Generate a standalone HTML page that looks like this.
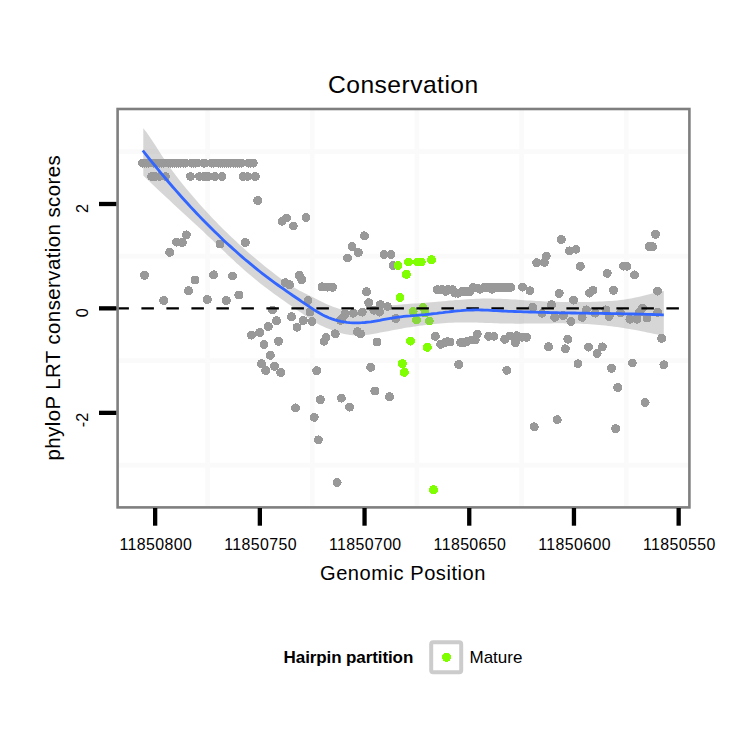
<!DOCTYPE html>
<html><head><meta charset="utf-8"><style>
html,body{margin:0;padding:0;background:#fff;}
svg{display:block;}
text{font-family:"Liberation Sans",sans-serif;}
</style></head><body>
<svg width="750" height="750" viewBox="0 0 750 750">
<rect x="0" y="0" width="750" height="750" fill="#fff"/>
<g stroke="#fafafa" stroke-width="4.7" fill="none">
<line x1="207.55" y1="110" x2="207.55" y2="506"/>
<line x1="312.25" y1="110" x2="312.25" y2="506"/>
<line x1="416.95" y1="110" x2="416.95" y2="506"/>
<line x1="521.65" y1="110" x2="521.65" y2="506"/>
<line x1="626.3" y1="110" x2="626.3" y2="506"/>
<line x1="119" y1="151.7" x2="688" y2="151.7"/>
<line x1="119" y1="256.15" x2="688" y2="256.15"/>
<line x1="119" y1="360.6" x2="688" y2="360.6"/>
<line x1="119" y1="465.2" x2="688" y2="465.2"/>
</g>
<g fill="#999999" shape-rendering="crispEdges">
<circle cx="142.5" cy="163.1" r="4.5"/>
<circle cx="144.6" cy="163.1" r="4.5"/>
<circle cx="146.8" cy="163.1" r="4.5"/>
<circle cx="148.9" cy="163.1" r="4.5"/>
<circle cx="151.0" cy="163.1" r="4.5"/>
<circle cx="153.2" cy="163.1" r="4.5"/>
<circle cx="155.3" cy="163.1" r="4.5"/>
<circle cx="157.4" cy="163.1" r="4.5"/>
<circle cx="159.6" cy="163.1" r="4.5"/>
<circle cx="161.7" cy="163.1" r="4.5"/>
<circle cx="163.8" cy="163.1" r="4.5"/>
<circle cx="166.0" cy="163.1" r="4.5"/>
<circle cx="168.1" cy="163.1" r="4.5"/>
<circle cx="170.3" cy="163.1" r="4.5"/>
<circle cx="172.4" cy="163.1" r="4.5"/>
<circle cx="174.5" cy="163.1" r="4.5"/>
<circle cx="176.7" cy="163.1" r="4.5"/>
<circle cx="178.8" cy="163.1" r="4.5"/>
<circle cx="180.9" cy="163.1" r="4.5"/>
<circle cx="183.1" cy="163.1" r="4.5"/>
<circle cx="185.2" cy="163.1" r="4.5"/>
<circle cx="191.6" cy="163.1" r="4.5"/>
<circle cx="193.4" cy="163.1" r="4.5"/>
<circle cx="195.2" cy="163.1" r="4.5"/>
<circle cx="197.0" cy="163.1" r="4.5"/>
<circle cx="203.5" cy="163.1" r="4.5"/>
<circle cx="204.7" cy="163.1" r="4.5"/>
<circle cx="211.7" cy="163.1" r="4.5"/>
<circle cx="213.8" cy="163.1" r="4.5"/>
<circle cx="216.0" cy="163.1" r="4.5"/>
<circle cx="218.1" cy="163.1" r="4.5"/>
<circle cx="220.2" cy="163.1" r="4.5"/>
<circle cx="222.4" cy="163.1" r="4.5"/>
<circle cx="224.5" cy="163.1" r="4.5"/>
<circle cx="226.6" cy="163.1" r="4.5"/>
<circle cx="228.8" cy="163.1" r="4.5"/>
<circle cx="230.9" cy="163.1" r="4.5"/>
<circle cx="233.1" cy="163.1" r="4.5"/>
<circle cx="235.2" cy="163.1" r="4.5"/>
<circle cx="237.3" cy="163.1" r="4.5"/>
<circle cx="239.5" cy="163.1" r="4.5"/>
<circle cx="241.6" cy="163.1" r="4.5"/>
<circle cx="248.6" cy="163.1" r="4.5"/>
<circle cx="250.9" cy="163.1" r="4.5"/>
<circle cx="253.2" cy="163.1" r="4.5"/>
<circle cx="151.6" cy="176.5" r="4.5"/>
<circle cx="155.5" cy="176.5" r="4.5"/>
<circle cx="159.5" cy="176.5" r="4.5"/>
<circle cx="165.5" cy="176.5" r="4.5"/>
<circle cx="190.5" cy="176.5" r="4.5"/>
<circle cx="199.5" cy="176.5" r="4.5"/>
<circle cx="204.0" cy="176.5" r="4.5"/>
<circle cx="208.3" cy="176.5" r="4.5"/>
<circle cx="215.0" cy="176.5" r="4.5"/>
<circle cx="222.0" cy="176.5" r="4.5"/>
<circle cx="243.3" cy="176.5" r="4.5"/>
<circle cx="247.5" cy="176.5" r="4.5"/>
<circle cx="255.3" cy="176.5" r="4.5"/>
<circle cx="437.4" cy="289.6" r="4.5"/>
<circle cx="442.0" cy="289.6" r="4.5"/>
<circle cx="445.9" cy="291.3" r="4.5"/>
<circle cx="448.3" cy="289.6" r="4.5"/>
<circle cx="452.5" cy="289.6" r="4.5"/>
<circle cx="455.2" cy="293.1" r="4.5"/>
<circle cx="458.0" cy="293.3" r="4.5"/>
<circle cx="462.0" cy="291.7" r="4.5"/>
<circle cx="466.0" cy="291.7" r="4.5"/>
<circle cx="470.0" cy="291.6" r="4.5"/>
<circle cx="473.3" cy="287.4" r="4.5"/>
<circle cx="477.0" cy="288.0" r="4.5"/>
<circle cx="480.0" cy="289.3" r="4.5"/>
<circle cx="484.0" cy="287.4" r="4.5"/>
<circle cx="488.0" cy="287.4" r="4.5"/>
<circle cx="492.0" cy="289.3" r="4.5"/>
<circle cx="491.5" cy="287.4" r="4.5"/>
<circle cx="496.0" cy="287.4" r="4.5"/>
<circle cx="500.0" cy="287.4" r="4.5"/>
<circle cx="504.0" cy="287.4" r="4.5"/>
<circle cx="507.5" cy="287.5" r="4.5"/>
<circle cx="510.6" cy="287.4" r="4.5"/>
<circle cx="445.0" cy="342.5" r="4.5"/>
<circle cx="447.5" cy="341.5" r="4.5"/>
<circle cx="464.0" cy="342.5" r="4.5"/>
<circle cx="522.0" cy="337.3" r="4.5"/>
<circle cx="257.7" cy="200.4" r="4.5"/>
<circle cx="186.3" cy="234.9" r="4.5"/>
<circle cx="176.5" cy="242.0" r="4.5"/>
<circle cx="182.3" cy="242.4" r="4.5"/>
<circle cx="169.7" cy="252.3" r="4.5"/>
<circle cx="144.4" cy="275.3" r="4.5"/>
<circle cx="195.0" cy="280.0" r="4.5"/>
<circle cx="213.6" cy="274.8" r="4.5"/>
<circle cx="188.5" cy="290.7" r="4.5"/>
<circle cx="220.0" cy="244.1" r="4.5"/>
<circle cx="245.3" cy="242.4" r="4.5"/>
<circle cx="286.7" cy="218.0" r="4.5"/>
<circle cx="282.0" cy="221.3" r="4.5"/>
<circle cx="293.3" cy="226.0" r="4.5"/>
<circle cx="232.4" cy="276.0" r="4.5"/>
<circle cx="285.3" cy="282.7" r="4.5"/>
<circle cx="289.6" cy="284.7" r="4.5"/>
<circle cx="299.3" cy="275.3" r="4.5"/>
<circle cx="301.7" cy="279.7" r="4.5"/>
<circle cx="238.9" cy="295.0" r="4.5"/>
<circle cx="163.7" cy="300.4" r="4.5"/>
<circle cx="207.3" cy="299.6" r="4.5"/>
<circle cx="226.3" cy="300.4" r="4.5"/>
<circle cx="272.4" cy="310.0" r="4.5"/>
<circle cx="276.4" cy="320.7" r="4.5"/>
<circle cx="291.5" cy="316.7" r="4.5"/>
<circle cx="268.3" cy="326.4" r="4.5"/>
<circle cx="259.7" cy="332.4" r="4.5"/>
<circle cx="251.3" cy="335.1" r="4.5"/>
<circle cx="297.0" cy="327.2" r="4.5"/>
<circle cx="278.4" cy="341.3" r="4.5"/>
<circle cx="264.0" cy="344.7" r="4.5"/>
<circle cx="270.3" cy="355.3" r="4.5"/>
<circle cx="261.6" cy="363.7" r="4.5"/>
<circle cx="265.7" cy="370.4" r="4.5"/>
<circle cx="274.4" cy="366.3" r="4.5"/>
<circle cx="280.7" cy="372.4" r="4.5"/>
<circle cx="306.0" cy="217.7" r="4.5"/>
<circle cx="364.4" cy="235.8" r="4.5"/>
<circle cx="352.0" cy="246.7" r="4.5"/>
<circle cx="358.3" cy="252.4" r="4.5"/>
<circle cx="347.6" cy="258.0" r="4.5"/>
<circle cx="384.0" cy="254.4" r="4.5"/>
<circle cx="391.0" cy="254.4" r="4.5"/>
<circle cx="322.0" cy="286.9" r="4.5"/>
<circle cx="327.5" cy="287.0" r="4.5"/>
<circle cx="332.4" cy="287.3" r="4.5"/>
<circle cx="366.4" cy="291.7" r="4.5"/>
<circle cx="308.0" cy="300.7" r="4.5"/>
<circle cx="310.0" cy="312.0" r="4.5"/>
<circle cx="303.3" cy="320.4" r="4.5"/>
<circle cx="312.0" cy="321.7" r="4.5"/>
<circle cx="335.2" cy="333.8" r="4.5"/>
<circle cx="326.0" cy="337.3" r="4.5"/>
<circle cx="324.0" cy="341.3" r="4.5"/>
<circle cx="345.0" cy="314.0" r="4.5"/>
<circle cx="342.1" cy="318.6" r="4.5"/>
<circle cx="340.5" cy="320.5" r="4.5"/>
<circle cx="353.3" cy="313.2" r="4.5"/>
<circle cx="362.2" cy="312.1" r="4.5"/>
<circle cx="368.7" cy="302.7" r="4.5"/>
<circle cx="373.9" cy="310.2" r="4.5"/>
<circle cx="380.4" cy="304.6" r="4.5"/>
<circle cx="379.5" cy="312.1" r="4.5"/>
<circle cx="387.5" cy="306.5" r="4.5"/>
<circle cx="357.5" cy="331.7" r="4.5"/>
<circle cx="360.8" cy="334.0" r="4.5"/>
<circle cx="377.1" cy="342.0" r="4.5"/>
<circle cx="316.7" cy="370.7" r="4.5"/>
<circle cx="370.7" cy="367.3" r="4.5"/>
<circle cx="395.8" cy="318.5" r="4.5"/>
<circle cx="393.3" cy="265.6" r="4.5"/>
<circle cx="522.5" cy="287.0" r="4.5"/>
<circle cx="530.0" cy="290.8" r="4.5"/>
<circle cx="559.2" cy="293.4" r="4.5"/>
<circle cx="589.5" cy="293.0" r="4.5"/>
<circle cx="593.0" cy="290.2" r="4.5"/>
<circle cx="613.6" cy="290.3" r="4.5"/>
<circle cx="573.7" cy="300.1" r="4.5"/>
<circle cx="551.6" cy="304.7" r="4.5"/>
<circle cx="532.7" cy="307.3" r="4.5"/>
<circle cx="542.0" cy="313.3" r="4.5"/>
<circle cx="554.7" cy="317.3" r="4.5"/>
<circle cx="563.4" cy="315.5" r="4.5"/>
<circle cx="571.0" cy="321.5" r="4.5"/>
<circle cx="586.3" cy="309.9" r="4.5"/>
<circle cx="582.1" cy="317.3" r="4.5"/>
<circle cx="595.1" cy="313.1" r="4.5"/>
<circle cx="605.9" cy="309.9" r="4.5"/>
<circle cx="609.2" cy="316.4" r="4.5"/>
<circle cx="620.4" cy="313.0" r="4.5"/>
<circle cx="623.5" cy="266.0" r="4.5"/>
<circle cx="627.0" cy="266.3" r="4.5"/>
<circle cx="634.4" cy="274.9" r="4.5"/>
<circle cx="657.5" cy="291.1" r="4.5"/>
<circle cx="642.7" cy="308.0" r="4.5"/>
<circle cx="629.9" cy="319.2" r="4.5"/>
<circle cx="636.9" cy="319.2" r="4.5"/>
<circle cx="639.5" cy="312.3" r="4.5"/>
<circle cx="647.0" cy="318.1" r="4.5"/>
<circle cx="657.7" cy="312.3" r="4.5"/>
<circle cx="661.6" cy="338.4" r="4.5"/>
<circle cx="561.3" cy="239.6" r="4.5"/>
<circle cx="569.3" cy="250.9" r="4.5"/>
<circle cx="576.0" cy="249.3" r="4.5"/>
<circle cx="546.3" cy="256.0" r="4.5"/>
<circle cx="536.7" cy="262.7" r="4.5"/>
<circle cx="544.4" cy="262.4" r="4.5"/>
<circle cx="580.3" cy="266.3" r="4.5"/>
<circle cx="607.2" cy="273.3" r="4.5"/>
<circle cx="655.6" cy="234.3" r="4.5"/>
<circle cx="649.0" cy="246.7" r="4.5"/>
<circle cx="652.5" cy="246.7" r="4.5"/>
<circle cx="435.3" cy="336.3" r="4.5"/>
<circle cx="440.7" cy="344.3" r="4.5"/>
<circle cx="450.0" cy="342.0" r="4.5"/>
<circle cx="460.7" cy="342.4" r="4.5"/>
<circle cx="466.7" cy="341.6" r="4.5"/>
<circle cx="471.3" cy="340.0" r="4.5"/>
<circle cx="477.3" cy="334.0" r="4.5"/>
<circle cx="475.3" cy="340.0" r="4.5"/>
<circle cx="488.7" cy="336.3" r="4.5"/>
<circle cx="494.0" cy="336.3" r="4.5"/>
<circle cx="504.7" cy="339.3" r="4.5"/>
<circle cx="510.0" cy="336.0" r="4.5"/>
<circle cx="515.3" cy="342.7" r="4.5"/>
<circle cx="516.7" cy="335.7" r="4.5"/>
<circle cx="526.5" cy="337.4" r="4.5"/>
<circle cx="548.5" cy="346.7" r="4.5"/>
<circle cx="567.8" cy="339.2" r="4.5"/>
<circle cx="565.3" cy="348.8" r="4.5"/>
<circle cx="588.5" cy="347.1" r="4.5"/>
<circle cx="602.3" cy="346.9" r="4.5"/>
<circle cx="597.1" cy="353.5" r="4.5"/>
<circle cx="578.0" cy="363.8" r="4.5"/>
<circle cx="611.5" cy="368.3" r="4.5"/>
<circle cx="632.3" cy="363.0" r="4.5"/>
<circle cx="663.9" cy="364.8" r="4.5"/>
<circle cx="617.6" cy="387.5" r="4.5"/>
<circle cx="645.1" cy="402.5" r="4.5"/>
<circle cx="615.6" cy="428.6" r="4.5"/>
<circle cx="557.2" cy="419.7" r="4.5"/>
<circle cx="534.2" cy="426.8" r="4.5"/>
<circle cx="458.6" cy="364.5" r="4.5"/>
<circle cx="506.8" cy="370.3" r="4.5"/>
<circle cx="389.5" cy="396.8" r="4.5"/>
<circle cx="295.4" cy="407.9" r="4.5"/>
<circle cx="320.4" cy="399.6" r="4.5"/>
<circle cx="314.2" cy="417.3" r="4.5"/>
<circle cx="318.3" cy="439.9" r="4.5"/>
<circle cx="341.3" cy="398.1" r="4.5"/>
<circle cx="349.7" cy="407.1" r="4.5"/>
<circle cx="374.9" cy="391.0" r="4.5"/>
<circle cx="337.1" cy="482.4" r="4.5"/>
</g>
<g fill="#7fff00" shape-rendering="crispEdges">
<circle cx="398.0" cy="265.6" r="4.5"/>
<circle cx="408.4" cy="262.0" r="4.5"/>
<circle cx="417.6" cy="262.0" r="4.5"/>
<circle cx="421.3" cy="262.0" r="4.5"/>
<circle cx="431.4" cy="259.7" r="4.5"/>
<circle cx="406.4" cy="274.4" r="4.5"/>
<circle cx="400.0" cy="297.4" r="4.5"/>
<circle cx="413.1" cy="311.4" r="4.5"/>
<circle cx="423.0" cy="307.5" r="4.5"/>
<circle cx="425.0" cy="313.0" r="4.5"/>
<circle cx="416.6" cy="320.0" r="4.5"/>
<circle cx="429.3" cy="321.0" r="4.5"/>
<circle cx="410.4" cy="341.1" r="4.5"/>
<circle cx="427.3" cy="347.3" r="4.5"/>
<circle cx="402.4" cy="363.6" r="4.5"/>
<circle cx="404.3" cy="372.3" r="4.5"/>
<circle cx="433.5" cy="489.8" r="4.5"/>
</g>
<polygon points="143.3,128.3 146.3,132.0 149.3,136.2 152.3,140.7 155.3,145.3 158.3,150.0 161.3,154.7 164.3,159.3 167.3,163.7 170.3,168.0 173.3,172.1 176.3,176.0 179.3,179.9 182.3,183.7 185.3,187.4 188.3,191.0 191.3,194.6 194.3,198.1 197.3,201.6 200.3,205.0 203.3,208.3 206.3,211.6 209.3,214.8 212.3,218.0 215.3,221.1 218.3,224.2 221.3,227.2 224.3,230.2 227.3,233.1 230.3,236.0 233.3,238.8 236.3,241.6 239.3,244.4 242.3,247.1 245.3,249.7 248.3,252.4 251.3,255.0 254.3,257.5 257.3,260.0 260.3,262.5 263.3,264.9 266.3,267.4 269.3,269.7 272.3,272.1 275.3,274.4 278.3,276.7 281.3,278.9 284.3,281.0 287.3,283.1 290.3,285.1 293.3,287.0 296.3,288.8 299.3,290.5 302.3,292.0 305.3,293.5 308.3,295.0 311.3,296.4 314.3,297.9 317.3,299.4 320.3,300.9 323.3,302.4 326.3,303.9 329.3,305.3 332.3,306.5 335.3,307.6 338.3,308.6 341.3,309.4 344.3,310.0 347.3,310.4 350.3,310.7 353.3,310.8 356.3,310.6 359.3,310.2 362.3,309.7 365.3,309.1 368.3,308.5 371.3,308.0 374.3,307.4 377.3,307.0 380.3,306.5 383.3,306.2 386.3,305.8 389.3,305.5 392.3,305.2 395.3,305.0 398.3,304.7 401.3,304.5 404.3,304.2 407.3,304.0 410.3,303.8 413.3,303.6 416.3,303.4 419.3,303.2 422.3,302.9 425.3,302.7 428.3,302.5 431.3,302.2 434.3,302.0 437.3,301.7 440.3,301.4 443.3,301.2 446.3,300.9 449.3,300.6 452.3,300.4 455.3,300.1 458.3,299.9 461.3,299.7 464.3,299.5 467.3,299.3 470.3,299.1 473.3,299.0 476.3,298.8 479.3,298.7 482.3,298.6 485.3,298.6 488.3,298.6 491.3,298.6 494.3,298.7 497.3,298.7 500.3,298.8 503.3,298.9 506.3,299.1 509.3,299.2 512.3,299.4 515.3,299.6 518.3,299.8 521.3,300.0 524.3,300.2 527.3,300.4 530.3,300.5 533.3,300.7 536.3,300.9 539.3,301.1 542.3,301.2 545.3,301.4 548.3,301.5 551.3,301.6 554.3,301.7 557.3,301.8 560.3,301.9 563.3,301.9 566.3,302.0 569.3,302.0 572.3,302.0 575.3,302.0 578.3,302.0 581.3,302.0 584.3,302.0 587.3,301.9 590.3,301.9 593.3,301.8 596.3,301.7 599.3,301.6 602.3,301.4 605.3,301.3 608.3,301.1 611.3,300.9 614.3,300.7 617.3,300.4 620.3,300.1 623.3,299.7 626.3,299.3 629.3,298.8 632.3,298.2 635.3,297.5 638.3,296.9 641.3,296.2 644.3,295.4 647.3,294.7 650.3,294.0 653.3,293.2 656.3,292.5 659.3,291.9 662.3,291.3 663.8,291.0 663.8,336.1 662.3,335.7 659.3,335.0 656.3,334.3 653.3,333.7 650.3,333.0 647.3,332.4 644.3,331.8 641.3,331.2 638.3,330.6 635.3,330.1 632.3,329.5 629.3,329.0 626.3,328.5 623.3,328.0 620.3,327.6 617.3,327.1 614.3,326.7 611.3,326.3 608.3,326.0 605.3,325.6 602.3,325.3 599.3,325.0 596.3,324.7 593.3,324.5 590.3,324.3 587.3,324.1 584.3,323.9 581.3,323.8 578.3,323.6 575.3,323.5 572.3,323.5 569.3,323.4 566.3,323.4 563.3,323.3 560.3,323.3 557.3,323.3 554.3,323.3 551.3,323.4 548.3,323.4 545.3,323.4 542.3,323.5 539.3,323.5 536.3,323.5 533.3,323.6 530.3,323.6 527.3,323.6 524.3,323.6 521.3,323.7 518.3,323.7 515.3,323.7 512.3,323.6 509.3,323.6 506.3,323.5 503.3,323.5 500.3,323.4 497.3,323.3 494.3,323.2 491.3,323.1 488.3,323.0 485.3,322.9 482.3,322.8 479.3,322.7 476.3,322.6 473.3,322.6 470.3,322.5 467.3,322.5 464.3,322.5 461.3,322.5 458.3,322.5 455.3,322.6 452.3,322.7 449.3,322.8 446.3,323.0 443.3,323.2 440.3,323.4 437.3,323.7 434.3,324.0 431.3,324.3 428.3,324.6 425.3,325.0 422.3,325.4 419.3,325.8 416.3,326.2 413.3,326.7 410.3,327.2 407.3,327.6 404.3,328.1 401.3,328.7 398.3,329.2 395.3,329.7 392.3,330.3 389.3,330.9 386.3,331.5 383.3,332.1 380.3,332.6 377.3,333.2 374.3,333.8 371.3,334.3 368.3,334.7 365.3,335.0 362.3,335.3 359.3,335.4 356.3,335.5 353.3,335.3 350.3,335.1 347.3,334.6 344.3,334.0 341.3,333.2 338.3,332.3 335.3,331.3 332.3,330.2 329.3,329.1 326.3,327.9 323.3,326.6 320.3,325.2 317.3,323.6 314.3,321.8 311.3,319.9 308.3,317.8 305.3,315.7 302.3,313.6 299.3,311.5 296.3,309.5 293.3,307.4 290.3,305.3 287.3,303.2 284.3,301.1 281.3,299.0 278.3,296.8 275.3,294.7 272.3,292.5 269.3,290.2 266.3,288.0 263.3,285.7 260.3,283.4 257.3,281.0 254.3,278.6 251.3,276.1 248.3,273.6 245.3,271.0 242.3,268.3 239.3,265.6 236.3,262.9 233.3,260.1 230.3,257.2 227.3,254.4 224.3,251.5 221.3,248.7 218.3,245.8 215.3,242.9 212.3,240.1 209.3,237.3 206.3,234.4 203.3,231.6 200.3,228.8 197.3,226.1 194.3,223.3 191.3,220.5 188.3,217.8 185.3,215.0 182.3,212.2 179.3,209.5 176.3,206.7 173.3,203.9 170.3,201.1 167.3,198.3 164.3,195.5 161.3,192.7 158.3,189.9 155.3,187.1 152.3,184.2 149.3,181.3 146.3,178.4 143.3,175.5" fill="#999999" fill-opacity="0.4"/>
<line x1="116.4" y1="308.4" x2="688" y2="308.4" stroke="#000" stroke-width="2.2" stroke-dasharray="12.5 12.5"/>
<polyline points="142.8,150.5 145.8,154.3 148.8,158.1 151.8,161.8 154.8,165.5 157.8,169.2 160.8,172.8 163.8,176.4 166.8,180.0 169.8,183.5 172.8,187.0 175.8,190.4 178.8,193.8 181.8,197.2 184.8,200.5 187.8,203.8 190.8,207.1 193.8,210.3 196.8,213.5 199.8,216.6 202.8,219.7 205.8,222.8 208.8,225.8 211.8,228.8 214.8,231.7 217.8,234.6 220.8,237.5 223.8,240.4 226.8,243.2 229.8,245.9 232.8,248.6 235.8,251.3 238.8,254.0 241.8,256.6 244.8,259.2 247.8,261.7 250.8,264.2 253.8,266.6 256.8,269.1 259.8,271.5 262.8,273.8 265.8,276.1 268.8,278.4 271.8,280.6 274.8,282.8 277.8,285.0 280.8,287.1 283.8,289.2 286.8,291.3 289.8,293.4 292.8,295.5 295.8,297.5 298.8,299.5 301.8,301.6 304.8,303.6 307.8,305.6 310.8,307.6 313.8,309.6 316.8,311.5 319.8,313.3 322.8,314.9 325.8,316.4 328.8,317.7 331.8,318.9 334.8,319.9 337.8,320.7 340.8,321.4 343.8,321.9 346.8,322.3 349.8,322.6 352.8,322.8 355.8,322.9 358.8,322.8 361.8,322.7 364.8,322.5 367.8,322.1 370.8,321.8 373.8,321.3 376.8,320.8 379.8,320.3 382.8,319.7 385.8,319.1 388.8,318.6 391.8,318.1 394.8,317.6 397.8,317.2 400.8,316.8 403.8,316.4 406.8,316.1 409.8,315.9 412.8,315.6 415.8,315.4 418.8,315.1 421.8,314.8 424.8,314.6 427.8,314.3 430.8,314.0 433.8,313.6 436.8,313.3 439.8,312.9 442.8,312.6 445.8,312.2 448.8,311.9 451.8,311.5 454.8,311.2 457.8,310.9 460.8,310.7 463.8,310.4 466.8,310.2 469.8,310.1 472.8,310.0 475.8,309.9 478.8,309.9 481.8,310.0 484.8,310.1 487.8,310.2 490.8,310.3 493.8,310.5 496.8,310.7 499.8,310.8 502.8,311.0 505.8,311.1 508.8,311.3 511.8,311.4 514.8,311.5 517.8,311.6 520.8,311.7 523.8,311.8 526.8,311.9 529.8,312.0 532.8,312.1 535.8,312.2 538.8,312.3 541.8,312.4 544.8,312.4 547.8,312.5 550.8,312.6 553.8,312.6 556.8,312.7 559.8,312.8 562.8,312.8 565.8,312.9 568.8,312.9 571.8,313.0 574.8,313.0 577.8,313.1 580.8,313.1 583.8,313.2 586.8,313.2 589.8,313.3 592.8,313.3 595.8,313.3 598.8,313.4 601.8,313.4 604.8,313.5 607.8,313.5 610.8,313.6 613.8,313.6 616.8,313.7 619.8,313.7 622.8,313.8 625.8,313.9 628.8,313.9 631.8,314.0 634.8,314.0 637.8,314.1 640.8,314.2 643.8,314.2 646.8,314.3 649.8,314.4 652.8,314.5 655.8,314.6 658.8,314.7 661.8,314.8 663.8,314.8" fill="none" stroke="#3366ff" stroke-width="2.8" stroke-linejoin="round"/>
<rect x="117.6" y="109" width="571.8" height="398.4" fill="none" stroke="#7f7f7f" stroke-width="2.6"/>
<g stroke="#000" stroke-width="4.3">
<line x1="155.15" y1="508" x2="155.15" y2="525.7"/>
<line x1="259.85" y1="508" x2="259.85" y2="525.7"/>
<line x1="364.55" y1="508" x2="364.55" y2="525.7"/>
<line x1="469.25" y1="508" x2="469.25" y2="525.7"/>
<line x1="573.95" y1="508" x2="573.95" y2="525.7"/>
<line x1="678.65" y1="508" x2="678.65" y2="525.7"/>
<line x1="99" y1="204" x2="116.3" y2="204"/>
<line x1="99" y1="308.35" x2="116.3" y2="308.35"/>
<line x1="99" y1="412.85" x2="116.3" y2="412.85"/>
</g>
<g font-size="15.9" letter-spacing="0.4" fill="#000">
<text x="119.5" y="550">11850800</text>
<text x="224.2" y="550">11850750</text>
<text x="328.9" y="550">11850700</text>
<text x="433.6" y="550">11850650</text>
<text x="538.3" y="550">11850600</text>
<text x="643" y="550">11850550</text>
</g>
<g font-size="16.2" fill="#000" text-anchor="end">
<text transform="translate(87.6 204) rotate(-90)">2</text>
<text transform="translate(87.6 308.35) rotate(-90)">0</text>
<text transform="translate(87.6 412.85) rotate(-90)">-2</text>
</g>
<text x="328" y="93" font-size="24.6" letter-spacing="0.48">Conservation</text>
<text x="320" y="579.7" font-size="20.1" letter-spacing="0.53">Genomic Position</text>
<text transform="translate(60 460.5) rotate(-90)" font-size="20.4" letter-spacing="0.44">phyloP LRT conservation scores</text>
<text x="283.6" y="663" font-size="17" font-weight="bold" letter-spacing="-0.1">Hairpin partition</text>
<rect x="431.2" y="642.2" width="30" height="30" rx="2" fill="#fff" stroke="#cccccc" stroke-width="4"/>
<circle cx="446.5" cy="657.3" r="4.6" fill="#7fff00" shape-rendering="crispEdges"/>
<text x="469.5" y="662.9" font-size="17">Mature</text>
</svg>
</body></html>
